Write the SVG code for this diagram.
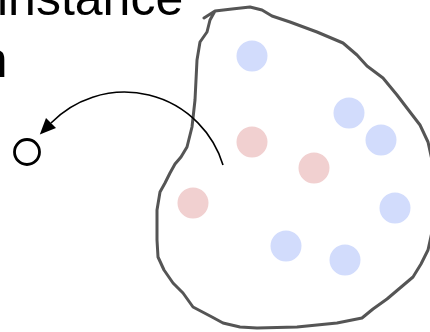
<svg xmlns="http://www.w3.org/2000/svg" width="430" height="332" viewBox="0 0 430 332">
<style>
.lbl{font-family:"Liberation Sans",Arial,sans-serif;font-size:50px;fill:#000}
.blue{fill:#d2dcfc}
.pink{fill:#f1d0d0}
.blob{fill:none;stroke:#555;stroke-width:3;stroke-linejoin:round;stroke-linecap:round}
.conn{fill:none;stroke:#000;stroke-width:1.6}
</style>
<defs>
<marker id="ah" markerUnits="userSpaceOnUse" markerWidth="20" markerHeight="20" viewBox="-2 -10 20 20" refX="0" refY="0" orient="auto">
<path d="M0,-7 L16,0 L0,7 z" fill="#000"/>
</marker>
</defs>
<rect width="430" height="332" fill="#fff"/>
<g id="label">
<text class="lbl" x="-3" y="15">instance</text>
<text class="lbl" x="7.5" y="77" text-anchor="end">n</text>
</g>
<g id="cluster">
<path class="blob" d="M204,18 L215,11 L232,9 L250,7 L262,10 L272,16 L290,22 L317,32 L343,43 L357,55 L367,66 L383,78 L397,95 L410,112 L420,125 L428,142 L432,160 L432,232 L428,250 L421,264 L413,277 L400,288 L387,299 L373,309 L362,318 L337,323 L297,327 L257,328 L240,327 L223,323 L212,317 L193,307 L183,293 L173,283 L164,270 L158,257 L157,240 L157,210 L160,192 L165,183 L170,173 L175,164 L181,157 L187,147 L192,127 L195,100 L197,60 L200,42 L207,32 L210,20 L215,11"/>
</g>
<g id="dots">
<circle id="b1" class="blue" cx="252" cy="56" r="15.5"/>
<circle id="b2" class="blue" cx="349" cy="113" r="15.5"/>
<circle id="b3" class="blue" cx="381" cy="140" r="15.5"/>
<circle id="b4" class="blue" cx="395" cy="208" r="15.5"/>
<circle id="b5" class="blue" cx="286" cy="246" r="15.5"/>
<circle id="b6" class="blue" cx="345" cy="260" r="15.5"/>
<circle id="p1" class="pink" cx="252" cy="142" r="15.5"/>
<circle id="p2" class="pink" cx="314" cy="168" r="15.5"/>
<circle id="p3" class="pink" cx="193" cy="203" r="15.5"/>
</g>
<g id="target">
<circle cx="27" cy="152" r="12.5" fill="none" stroke="#000" stroke-width="2.8"/>
</g>
<g id="connectors">
<path class="conn" d="M223,165 A103,103 0 0 0 51,123" marker-end="url(#ah)"/>
</g>
</svg>
